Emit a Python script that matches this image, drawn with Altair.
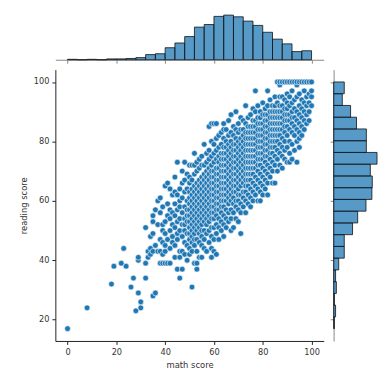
import altair as alt
import pandas as pd

# ---- marginal histogram counts ----
# math score: 25 bins of width 4 from 0 to 100
math_bin_counts = [1, 0, 1, 0, 2, 2, 3, 5, 12, 14, 28, 39, 54, 76, 82,
                   101, 104, 100, 90, 80, 64, 48, 37, 19, 21]
# reading score: 21 bins spanning 17..100, bottom to top
reading_bin_counts = [2, 5, 2, 7, 5, 13, 27, 27, 48, 61, 82, 97, 98, 93,
                      110, 83, 83, 58, 43, 22, 27]

# ---- scatter points: math score -> reading scores ----
scatter_rows = [
    (0, [17]), (8, [24]), (18, [32]), (19, [38]), (22, [39]), (23, [44]),
    (24, [38]), (26, [31]), (27, [34]), (28, [23]), (29, [29, 40, 41]),
    (30, [24, 26]), (32, [34, 39, 51]), (33, [41, 43]), (34, [42, 44, 48]),
    (35, [28, 43, 49, 53, 55]), (36, [29, 45, 57]), (37, [43, 52, 60]),
    (38, [39, 43, 47, 56, 61]), (39, [39, 42, 46, 50, 52, 58]),
    (40, [39, 43, 45, 49, 53, 65]), (41, [39, 47, 55, 59, 66]),
    (42, [39, 44, 50, 54, 57, 64]), (43, [46, 48, 52, 56, 62]),
    (44, [41, 45, 51, 55, 59, 63, 68]), (45, [37, 47, 49, 53, 57, 62, 73]),
    (46, [34, 41, 43, 50, 54, 58, 60, 64]),
    (47, [37, 43, 48, 52, 56, 61, 66, 70]),
    (48, [42, 46, 50, 52, 54, 58, 63, 67, 73]),
    (49, [40, 45, 49, 53, 55, 57, 60, 64, 69]),
    (50, [42, 44, 47, 49, 51, 53, 55, 57, 59, 61, 63, 66, 68, 72]),
    (51, [31, 43, 46, 48, 50, 52, 54, 56, 58, 60, 62, 64, 67, 72]),
    (52, [39, 45, 47, 49, 51, 53, 55, 57, 59, 61, 63, 65, 69, 72, 76]),
    (53, [37, 39, 43, 47, 50, 52, 54, 56, 58, 60, 62, 64, 66, 70, 73]),
    (54, [41, 46, 49, 51, 53, 55, 57, 59, 61, 63, 65, 67, 71, 74]),
    (55, [41, 45, 48, 50, 52, 54, 56, 58, 60, 62, 64, 66, 68, 72, 75]),
    (56, [44, 47, 50, 53, 55, 57, 59, 61, 63, 65, 67, 69, 72, 79]),
    (57, [43, 49, 52, 54, 56, 58, 60, 62, 64, 66, 68, 70, 73, 76]),
    (58, [46, 50, 53, 55, 57, 59, 61, 63, 65, 67, 69, 71, 74, 77, 85]),
    (59, [41, 44, 48, 51, 54, 56, 58, 60, 62, 64, 66, 68, 70, 72, 75, 80, 86]),
    (60, [43, 47, 51, 54, 56, 58, 60, 62, 64, 66, 68, 70, 73, 76, 79, 86]),
    (61, [42, 49, 52, 55, 57, 59, 61, 63, 65, 67, 69, 71, 74, 77, 81, 86]),
    (62, [47, 51, 54, 57, 59, 61, 63, 65, 67, 69, 71, 73, 75, 78, 82]),
    (63, [50, 53, 56, 58, 60, 62, 64, 66, 68, 70, 72, 74, 76, 79, 83]),
    (64, [48, 52, 55, 58, 60, 62, 64, 66, 68, 70, 72, 74, 76, 78, 81, 84, 86]),
    (65, [51, 54, 57, 60, 62, 64, 66, 68, 70, 72, 74, 76, 78, 80, 84]),
    (66, [53, 56, 59, 61, 63, 65, 67, 69, 71, 73, 75, 77, 79, 82, 87]),
    (67, [50, 54, 57, 60, 62, 64, 66, 68, 70, 72, 74, 76, 78, 80, 83, 89]),
    (68, [51, 56, 59, 61, 63, 65, 67, 69, 71, 73, 75, 77, 79, 82, 85]),
    (69, [54, 58, 60, 63, 65, 67, 69, 71, 73, 75, 77, 79, 81, 84, 90]),
    (70, [53, 57, 60, 62, 64, 66, 68, 70, 72, 74, 76, 78, 80, 83, 86]),
    (71, [49, 56, 59, 62, 65, 67, 69, 71, 73, 75, 77, 79, 81, 84, 88]),
    (72, [58, 61, 63, 66, 68, 70, 72, 74, 76, 78, 80, 82, 84, 87]),
    (73, [56, 60, 63, 65, 67, 69, 71, 73, 75, 77, 79, 81, 83, 86, 92]),
    (74, [59, 62, 65, 67, 69, 71, 73, 75, 77, 79, 81, 83, 85, 88]),
    (75, [58, 61, 64, 67, 69, 71, 73, 75, 77, 79, 81, 83, 85, 89]),
    (76, [60, 63, 66, 69, 71, 73, 75, 77, 79, 81, 83, 85, 87, 91]),
    (77, [62, 65, 68, 71, 73, 75, 77, 79, 81, 83, 85, 87, 90, 97]),
    (78, [60, 64, 67, 70, 72, 74, 76, 78, 80, 82, 84, 86, 88, 92]),
    (79, [60, 63, 66, 69, 72, 74, 76, 78, 80, 82, 84, 86, 88, 90]),
    (80, [62, 65, 68, 71, 74, 76, 78, 80, 82, 84, 86, 89, 93]),
    (81, [64, 67, 70, 73, 75, 77, 79, 81, 83, 85, 87, 89, 91]),
    (82, [62, 66, 69, 72, 75, 77, 79, 81, 83, 85, 87, 89, 92, 97]),
    (83, [68, 71, 74, 76, 78, 80, 82, 84, 86, 88, 90, 94]),
    (84, [66, 70, 73, 76, 78, 80, 82, 84, 86, 88, 90, 92]),
    (85, [66, 72, 75, 78, 80, 82, 84, 86, 88, 90, 92, 95]),
    (86, [70, 74, 77, 80, 82, 84, 86, 88, 90, 93, 100]),
    (87, [72, 76, 79, 82, 84, 86, 88, 90, 92, 95, 99, 100]),
    (88, [71, 75, 78, 81, 84, 86, 88, 90, 92, 95, 100]),
    (89, [74, 77, 80, 83, 85, 87, 89, 91, 94, 100]),
    (90, [73, 78, 82, 85, 87, 89, 91, 93, 96, 100]),
    (91, [73, 76, 80, 84, 87, 89, 92, 95, 100]),
    (92, [74, 79, 83, 86, 88, 90, 93, 97, 100]),
    (93, [77, 82, 85, 88, 91, 94, 100]),
    (94, [73, 80, 84, 87, 90, 95, 99, 100]),
    (95, [78, 81, 83, 86, 89, 92, 96, 100]),
    (96, [82, 85, 88, 91, 94, 100]),
    (97, [84, 87, 90, 93, 97, 100]),
    (98, [86, 89, 92, 95, 100]),
    (99, [87, 90, 93, 96, 100]),
    (100, [92, 95, 97, 100]),
]

math_ticks = [0, 20, 40, 60, 80, 100]
reading_ticks = [20, 40, 60, 80, 100]

math_vals, reading_vals = [], []
for m, rs in scatter_rows:
    for r in rs:
        math_vals.append(m)
        reading_vals.append(r)
scatter_df = pd.DataFrame({"math score": math_vals, "reading score": reading_vals})

top_df = pd.DataFrame({
    "lo": [4 * i for i in range(25)],
    "hi": [4 * (i + 1) for i in range(25)],
    "count": math_bin_counts,
    "zero": [0] * 25,
})
rw = (100 - 17) / 21
right_df = pd.DataFrame({
    "lo": [17 + rw * i for i in range(21)],
    "hi": [17 + rw * (i + 1) for i in range(21)],
    "count": reading_bin_counts,
    "zero": [0] * 21,
})

XDOM = [-5, 105]
YDOM = [12.85, 104.15]
FONT = "DejaVu Sans"
TXT = "#333333"
W, H = 272, 275

main = alt.Chart(scatter_df).mark_circle(
    size=34, fill="#1f77b4", stroke="white", strokeWidth=0.6, opacity=1
).encode(
    x=alt.X("math score:Q", scale=alt.Scale(domain=XDOM, nice=False, zero=False),
            axis=alt.Axis(values=math_ticks, grid=False, title="math score")),
    y=alt.Y("reading score:Q", scale=alt.Scale(domain=YDOM, nice=False, zero=False),
            axis=alt.Axis(values=reading_ticks, grid=False, title="reading score")),
).properties(width=W, height=H)

top = alt.Chart(top_df).mark_rect(
    fill="#1f77b4", fillOpacity=0.75, stroke="#111111", strokeWidth=0.8
).encode(
    x=alt.X("lo:Q", scale=alt.Scale(domain=XDOM, nice=False, zero=False),
            axis=alt.Axis(values=math_ticks, labels=False, title=None, grid=False,
                          domainColor="#888888", tickColor="#888888")),
    x2="hi:Q",
    y=alt.Y("count:Q", scale=alt.Scale(domain=[0, 108], nice=False), axis=None),
    y2="zero:Q",
).properties(width=W, height=47)

right = alt.Chart(right_df).mark_rect(
    fill="#1f77b4", fillOpacity=0.75, stroke="#111111", strokeWidth=0.8
).encode(
    y=alt.Y("lo:Q", scale=alt.Scale(domain=YDOM, nice=False, zero=False),
            axis=alt.Axis(values=reading_ticks, labels=False, title=None, grid=False,
                          domainColor="#888888", tickColor="#888888")),
    y2="hi:Q",
    x=alt.X("count:Q", scale=alt.Scale(domain=[0, 115], nice=False), axis=None),
    x2="zero:Q",
).properties(width=46, height=H)

blank = alt.Chart(pd.DataFrame({"v": [0]})).mark_point(opacity=0).encode(
    x=alt.X("v:Q", axis=None), y=alt.Y("v:Q", axis=None)
).properties(width=46, height=47)

chart = alt.concat(top, blank, main, right, columns=2,
                   spacing={"row": 6, "column": 6}).properties(
    padding={"left": 11, "top": 3, "right": 0, "bottom": 0}
).configure_view(stroke=None).configure_axis(
    labelFont=FONT, titleFont=FONT, labelFontSize=8.3, titleFontSize=8.5,
    titleFontWeight="normal", labelColor=TXT, titleColor=TXT,
    domainColor="#222222", tickColor="#222222", tickSize=3.5,
    labelPadding=3, titlePadding=5, domainWidth=1, tickWidth=1,
)

chart.save("out.html", embed_options={"renderer": "svg", "actions": False})
